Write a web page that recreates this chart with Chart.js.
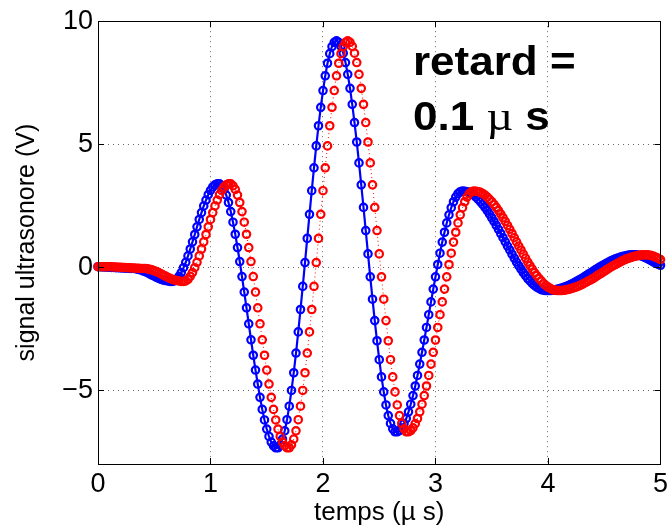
<!DOCTYPE html>
<html><head><meta charset="utf-8">
<script src="https://cdn.jsdelivr.net/npm/chart.js@4.4.1/dist/chart.umd.min.js"></script>
<style>html,body{margin:0;padding:0;background:#fff;}#wrap{width:672px;height:531px;}</style>
</head><body><div id="wrap"><canvas id="c" width="672" height="531"></canvas></div>
<script>
const timeValues = [
0.00,0.02,0.04,0.06,0.08,0.10,0.12,0.14,0.16,0.18,
0.20,0.22,0.24,0.26,0.28,0.30,0.32,0.34,0.36,0.38,
0.40,0.42,0.44,0.46,0.48,0.50,0.52,0.54,0.56,0.58,
0.60,0.62,0.64,0.66,0.68,0.70,0.72,0.74,0.76,0.78,
0.80,0.82,0.84,0.86,0.88,0.90,0.92,0.94,0.96,0.98,
1.00,1.02,1.04,1.06,1.08,1.10,1.12,1.14,1.16,1.18,
1.20,1.22,1.24,1.26,1.28,1.30,1.32,1.34,1.36,1.38,
1.40,1.42,1.44,1.46,1.48,1.50,1.52,1.54,1.56,1.58,
1.60,1.62,1.64,1.66,1.68,1.70,1.72,1.74,1.76,1.78,
1.80,1.82,1.84,1.86,1.88,1.90,1.92,1.94,1.96,1.98,
2.00,2.02,2.04,2.06,2.08,2.10,2.12,2.14,2.16,2.18,
2.20,2.22,2.24,2.26,2.28,2.30,2.32,2.34,2.36,2.38,
2.40,2.42,2.44,2.46,2.48,2.50,2.52,2.54,2.56,2.58,
2.60,2.62,2.64,2.66,2.68,2.70,2.72,2.74,2.76,2.78,
2.80,2.82,2.84,2.86,2.88,2.90,2.92,2.94,2.96,2.98,
3.00,3.02,3.04,3.06,3.08,3.10,3.12,3.14,3.16,3.18,
3.20,3.22,3.24,3.26,3.28,3.30,3.32,3.34,3.36,3.38,
3.40,3.42,3.44,3.46,3.48,3.50,3.52,3.54,3.56,3.58,
3.60,3.62,3.64,3.66,3.68,3.70,3.72,3.74,3.76,3.78,
3.80,3.82,3.84,3.86,3.88,3.90,3.92,3.94,3.96,3.98,
4.00,4.02,4.04,4.06,4.08,4.10,4.12,4.14,4.16,4.18,
4.20,4.22,4.24,4.26,4.28,4.30,4.32,4.34,4.36,4.38,
4.40,4.42,4.44,4.46,4.48,4.50,4.52,4.54,4.56,4.58,
4.60,4.62,4.64,4.66,4.68,4.70,4.72,4.74,4.76,4.78,
4.80,4.82,4.84,4.86,4.88,4.90,4.92,4.94,4.96,4.98,
5.00];

const blueValues = [
0.02,0.02,0.01,0.01,0.00,0.00,-0.01,-0.01,-0.02,-0.02,
-0.03,-0.03,-0.04,-0.04,-0.05,-0.05,-0.05,-0.07,-0.09,-0.11,
-0.15,-0.18,-0.22,-0.27,-0.32,-0.36,-0.41,-0.45,-0.49,-0.52,
-0.54,-0.56,-0.58,-0.58,-0.56,-0.49,-0.37,-0.22,-0.02,0.20,
0.46,0.74,1.03,1.33,1.64,1.94,2.22,2.49,2.73,2.95,
3.12,3.26,3.35,3.39,3.39,3.31,3.16,2.93,2.63,2.26,
1.83,1.34,0.80,0.23,-0.38,-1.01,-1.65,-2.30,-2.95,-3.58,
-4.18,-4.75,-5.29,-5.78,-6.21,-6.58,-6.88,-7.11,-7.26,-7.34,
-7.34,-7.22,-6.99,-6.65,-6.20,-5.65,-5.01,-4.29,-3.49,-2.63,
-1.72,-0.78,0.19,1.17,2.15,3.11,4.04,4.93,5.75,6.50,
7.18,7.78,8.29,8.68,8.97,9.14,9.20,9.14,8.98,8.70,
8.32,7.84,7.27,6.62,5.88,5.09,4.24,3.35,2.43,1.49,
0.54,-0.39,-1.30,-2.17,-2.99,-3.76,-4.46,-5.07,-5.60,-6.03,
-6.35,-6.57,-6.69,-6.69,-6.64,-6.53,-6.36,-6.15,-5.88,-5.57,
-5.22,-4.83,-4.40,-3.94,-3.46,-2.96,-2.45,-1.93,-1.41,-0.89,
-0.39,0.11,0.57,1.02,1.42,1.80,2.13,2.42,2.66,2.85,
2.99,3.07,3.10,3.09,3.07,3.04,2.99,2.93,2.85,2.76,
2.66,2.55,2.43,2.30,2.16,2.01,1.86,1.70,1.54,1.37,
1.20,1.03,0.86,0.70,0.53,0.37,0.21,0.06,-0.08,-0.22,
-0.34,-0.46,-0.56,-0.66,-0.74,-0.81,-0.86,-0.91,-0.93,-0.95,
-0.95,-0.95,-0.94,-0.92,-0.90,-0.88,-0.85,-0.82,-0.79,-0.75,
-0.71,-0.66,-0.61,-0.56,-0.51,-0.46,-0.40,-0.34,-0.28,-0.23,
-0.17,-0.11,-0.05,0.01,0.06,0.11,0.16,0.21,0.26,0.30,
0.34,0.37,0.40,0.43,0.45,0.47,0.49,0.50,0.50,0.50,
0.49,0.47,0.44,0.40,0.36,0.31,0.26,0.21,0.16,0.12,
0.08];

const redValues = [
0.02,0.02,0.02,0.02,0.02,0.02,0.02,0.01,0.01,0.00,
0.00,-0.01,-0.01,-0.02,-0.02,-0.03,-0.03,-0.04,-0.04,-0.05,
-0.05,-0.05,-0.07,-0.09,-0.11,-0.15,-0.18,-0.22,-0.27,-0.32,
-0.36,-0.41,-0.45,-0.49,-0.52,-0.54,-0.56,-0.58,-0.58,-0.56,
-0.49,-0.37,-0.22,-0.02,0.20,0.46,0.74,1.03,1.33,1.64,
1.94,2.22,2.49,2.73,2.95,3.12,3.26,3.35,3.39,3.39,
3.31,3.16,2.93,2.63,2.26,1.83,1.34,0.80,0.23,-0.38,
-1.01,-1.65,-2.30,-2.95,-3.58,-4.18,-4.75,-5.29,-5.78,-6.21,
-6.58,-6.88,-7.11,-7.26,-7.34,-7.34,-7.22,-6.99,-6.65,-6.20,
-5.65,-5.01,-4.29,-3.49,-2.63,-1.72,-0.78,0.19,1.17,2.15,
3.11,4.04,4.93,5.75,6.50,7.18,7.78,8.29,8.68,8.97,
9.14,9.20,9.14,8.98,8.70,8.32,7.84,7.27,6.62,5.88,
5.09,4.24,3.35,2.43,1.49,0.54,-0.39,-1.30,-2.17,-2.99,
-3.76,-4.46,-5.07,-5.60,-6.03,-6.35,-6.57,-6.69,-6.69,-6.64,
-6.53,-6.36,-6.15,-5.88,-5.57,-5.22,-4.83,-4.40,-3.94,-3.46,
-2.96,-2.45,-1.93,-1.41,-0.89,-0.39,0.11,0.57,1.02,1.42,
1.80,2.13,2.42,2.66,2.85,2.99,3.07,3.10,3.09,3.07,
3.04,2.99,2.93,2.85,2.76,2.66,2.55,2.43,2.30,2.16,
2.01,1.86,1.70,1.54,1.37,1.20,1.03,0.86,0.70,0.53,
0.37,0.21,0.06,-0.08,-0.22,-0.34,-0.46,-0.56,-0.66,-0.74,
-0.81,-0.86,-0.91,-0.93,-0.95,-0.95,-0.95,-0.94,-0.92,-0.90,
-0.88,-0.85,-0.82,-0.79,-0.75,-0.71,-0.66,-0.61,-0.56,-0.51,
-0.46,-0.40,-0.34,-0.28,-0.23,-0.17,-0.11,-0.05,0.01,0.06,
0.11,0.16,0.21,0.26,0.30,0.34,0.37,0.40,0.43,0.45,
0.47,0.49,0.50,0.50,0.50,0.49,0.47,0.44,0.40,0.36,
0.31];

const xTickValues = [0, 1, 2, 3, 4, 5];
const yTickValues = [-5, 0, 5, 10];
const xAxisTitle = 'temps (\u00b5 s)';
const yAxisTitle = 'signal ultrasonore (V)';
const noteLine1 = 'retard =';
const noteLine2Parts = ['0.1 ', '\u00b5', ' s'];

const FONT = '"Liberation Sans", Arial, Helvetica, sans-serif';
const SERIF = '"Liberation Serif", "Times New Roman", serif';

const boxPlugin = {
  id: 'matlabBox',
  afterDraw(chart) {
    const {ctx, chartArea: a, scales: {x, y}} = chart;
    ctx.save();
    ctx.strokeStyle = '#000';
    ctx.lineWidth = 1;
    ctx.setLineDash([]);
    ctx.strokeRect(Math.round(a.left) + 0.5, Math.round(a.top) + 0.5, Math.round(a.right - a.left), Math.round(a.bottom - a.top));
    const tl = 6;
    ctx.beginPath();
    xTickValues.forEach(v => {
      const px = Math.round(x.getPixelForValue(v)) + 0.5;
      ctx.moveTo(px, a.bottom); ctx.lineTo(px, a.bottom - tl);
      ctx.moveTo(px, a.top); ctx.lineTo(px, a.top + tl);
    });
    yTickValues.forEach(v => {
      const py = Math.round(y.getPixelForValue(v)) + 0.5;
      ctx.moveTo(a.left, py); ctx.lineTo(a.left + tl, py);
      ctx.moveTo(a.right, py); ctx.lineTo(a.right - tl, py);
    });
    ctx.stroke();

    // annotation (wide bold text, as in the original figure)
    const ax = x.getPixelForValue(2.8);
    const ay = y.getPixelForValue(7.8);
    const sx = 1.1;
    ctx.fillStyle = '#000';
    ctx.textBaseline = 'alphabetic';
    ctx.textAlign = 'left';
    ctx.translate(ax, 0);
    ctx.scale(sx, 1);
    ctx.font = 'bold 40px ' + FONT;
    ctx.fillText(noteLine1, 0, ay);
    let cx = 0;
    const y2 = ay + 55;
    noteLine2Parts.forEach((p, i) => {
      ctx.font = (i === 1 ? 'normal 42px ' + SERIF : 'bold 40px ' + FONT);
      ctx.fillText(p, cx, y2);
      cx += ctx.measureText(p).width;
    });
    ctx.restore();
  }
};

const gridColor = (axisMin, axisMax) => (c) => {
  const v = c.tick ? c.tick.value : null;
  if (v === axisMin || v === axisMax) return 'rgba(0,0,0,0)';
  return '#666';
};

const ctx = document.getElementById('c').getContext('2d');
new Chart(ctx, {
  type: 'line',
  data: {
    datasets: [
      {
        label: 'retard 0.1 \u00b5s',
        data: timeValues.map((t, i) => ({x: t, y: redValues[i]})),
        borderColor: '#ff0000', borderWidth: 1, borderDash: [1, 3],
        pointStyle: 'circle', pointRadius: 3.7, pointBorderWidth: 2.2,
        pointBackgroundColor: 'rgba(0,0,0,0)', pointBorderColor: '#ff0000',
        tension: 0, order: 0, clip: 10
      },
      {
        label: 'signal',
        data: timeValues.map((t, i) => ({x: t, y: blueValues[i]})),
        borderColor: '#0000ff', borderWidth: 2.2,
        pointStyle: 'circle', pointRadius: 3.7, pointBorderWidth: 2.2,
        pointBackgroundColor: 'rgba(0,0,0,0)', pointBorderColor: '#0000ff',
        tension: 0, order: 1, clip: 10
      }
    ]
  },
  options: {
    responsive: false, animation: false, devicePixelRatio: 1,
    layout: {padding: {left: 0, top: 19, right: 8, bottom: 0}},
    plugins: {legend: {display: false}, tooltip: {enabled: false}},
    scales: {
      x: {
        type: 'linear', min: 0, max: 5,
        afterBuildTicks: s => { s.ticks = xTickValues.map(v => ({value: v})); },
        afterFit: s => { s.height = 67; },
        ticks: {font: {family: FONT, size: 27}, color: '#000', padding: 4, maxRotation: 0, autoSkip: false},
        grid: {drawTicks: false, color: gridColor(0, 5), lineWidth: 1},
        border: {display: false, dash: [1, 4]},
        title: {display: true, text: xAxisTitle, color: '#000', font: {family: FONT, size: 26}, padding: {top: 0, bottom: 3}}
      },
      y: {
        type: 'linear', min: -8, max: 10,
        afterBuildTicks: s => { s.ticks = yTickValues.map(v => ({value: v})); },
        afterFit: s => { s.width = 98; },
        ticks: {font: {family: FONT, size: 27}, color: '#000', padding: 5, autoSkip: false,
                callback: v => (v < 0 ? '\u2212' + Math.abs(v) : String(v))},
        grid: {drawTicks: false, color: gridColor(-8, 10), lineWidth: 1},
        border: {display: false, dash: [1, 4]},
        title: {display: true, text: yAxisTitle, color: '#000', font: {family: FONT, size: 25}, padding: {top: 12, bottom: 0}}
      }
    }
  },
  plugins: [boxPlugin]
});
</script></body></html>
